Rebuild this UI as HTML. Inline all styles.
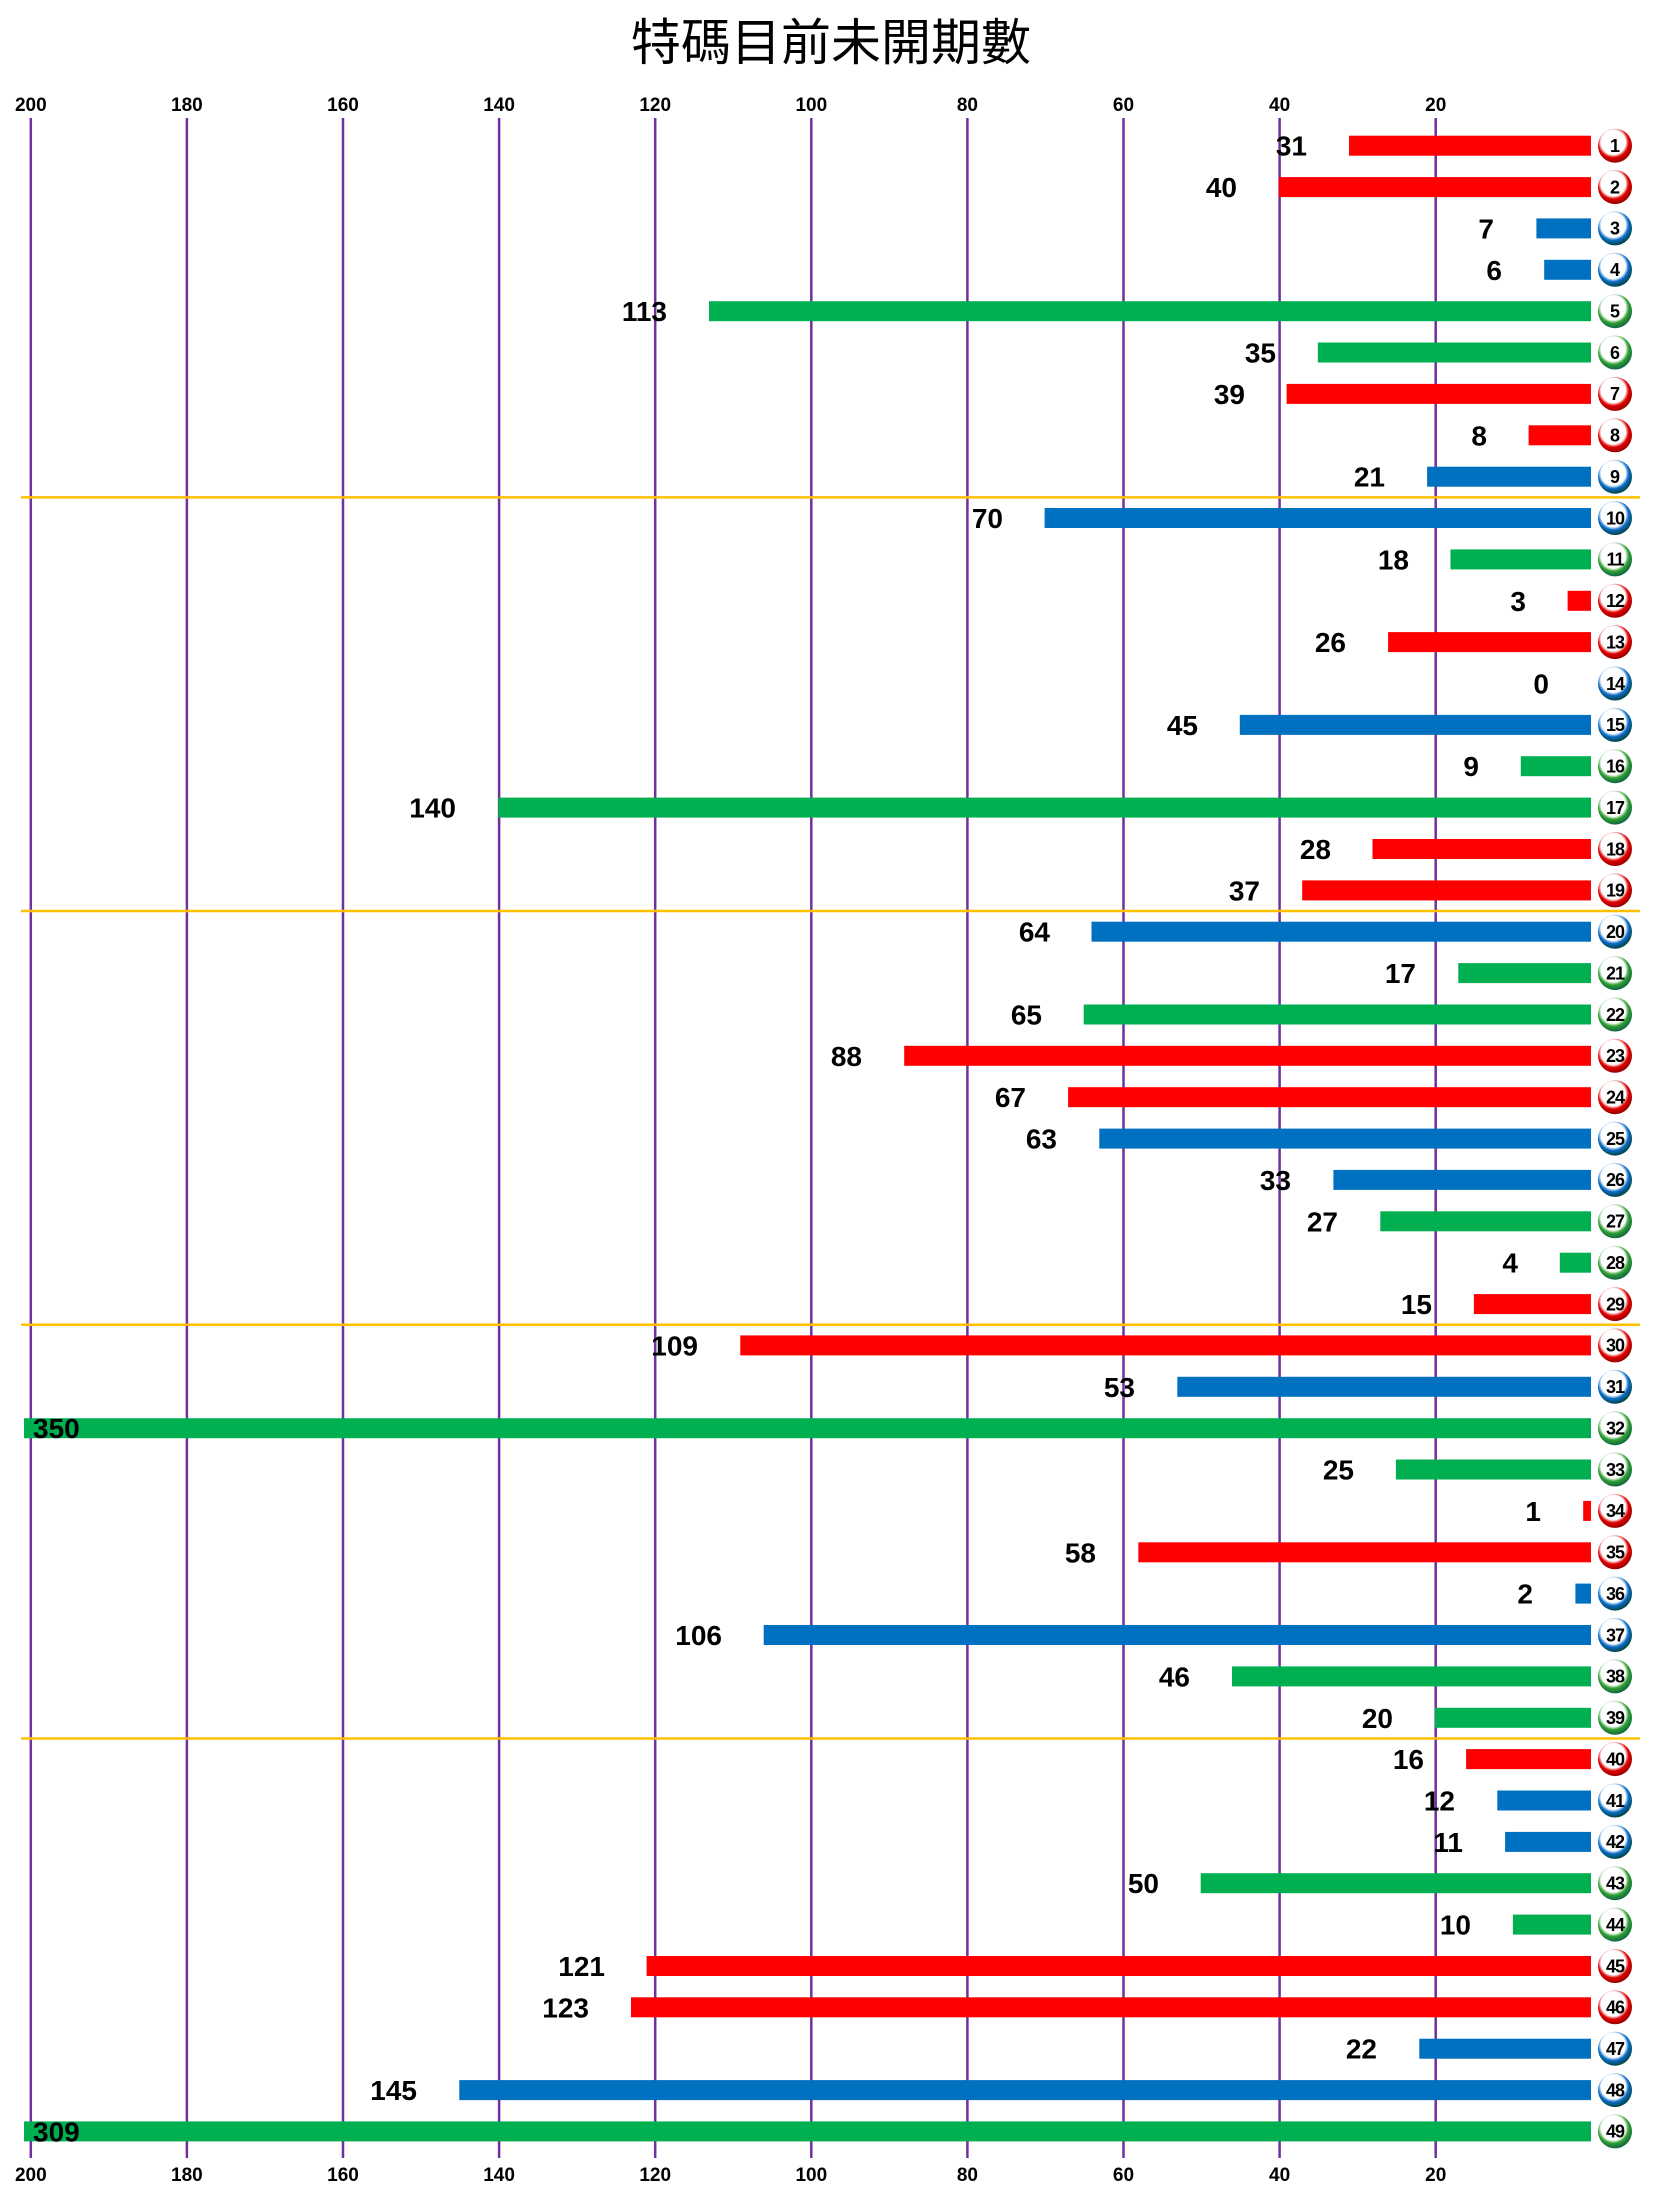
<!DOCTYPE html>
<html><head><meta charset="utf-8"><style>
html,body{margin:0;padding:0;background:#fff;}
svg{display:block;font-family:"Liberation Sans","Noto Sans CJK TC",sans-serif;}
.v{font-size:28px;font-weight:bold;text-anchor:end;fill:#000;}
.t{font-size:19px;font-weight:bold;text-anchor:middle;fill:#000;}
.n{font-size:18px;font-weight:bold;text-anchor:middle;fill:#000;}
</style></head><body>
<svg width="1654" height="2186" viewBox="0 0 1654 2186" xmlns="http://www.w3.org/2000/svg">
<defs>
<radialGradient id="R" cx="0.45" cy="0.4" r="0.6"><stop offset="0.6" stop-color="#fff"/><stop offset="0.75" stop-color="#e00000"/><stop offset="1" stop-color="#900"/></radialGradient>
<radialGradient id="B" cx="0.45" cy="0.4" r="0.6"><stop offset="0.6" stop-color="#fff"/><stop offset="0.75" stop-color="#0a6cc8"/><stop offset="1" stop-color="#044"/></radialGradient>
<radialGradient id="G" cx="0.45" cy="0.4" r="0.6"><stop offset="0.6" stop-color="#fff"/><stop offset="0.75" stop-color="#30a030"/><stop offset="1" stop-color="#164"/></radialGradient>
</defs>
<text x="831" y="60" font-size="50" text-anchor="middle" font-family="'Noto Sans CJK TC',sans-serif">特碼目前未開期數</text>
<g stroke="#7030a0" stroke-width="2.5">
<line x1="30.8" y1="118" x2="30.8" y2="2158"/><line x1="186.9" y1="118" x2="186.9" y2="2158"/><line x1="343" y1="118" x2="343" y2="2158"/><line x1="499.1" y1="118" x2="499.1" y2="2158"/><line x1="655.2" y1="118" x2="655.2" y2="2158"/><line x1="811.3" y1="118" x2="811.3" y2="2158"/><line x1="967.4" y1="118" x2="967.4" y2="2158"/><line x1="1123.5" y1="118" x2="1123.5" y2="2158"/><line x1="1279.6" y1="118" x2="1279.6" y2="2158"/><line x1="1435.7" y1="118" x2="1435.7" y2="2158"/>
</g>
<g>
<text class="t" x="30.8" y="111">200</text><text class="t" x="186.9" y="111">180</text><text class="t" x="343" y="111">160</text><text class="t" x="499.1" y="111">140</text><text class="t" x="655.2" y="111">120</text><text class="t" x="811.3" y="111">100</text><text class="t" x="967.4" y="111">80</text><text class="t" x="1123.5" y="111">60</text><text class="t" x="1279.6" y="111">40</text><text class="t" x="1435.7" y="111">20</text>
<text class="t" x="30.8" y="2181">200</text><text class="t" x="186.9" y="2181">180</text><text class="t" x="343" y="2181">160</text><text class="t" x="499.1" y="2181">140</text><text class="t" x="655.2" y="2181">120</text><text class="t" x="811.3" y="2181">100</text><text class="t" x="967.4" y="2181">80</text><text class="t" x="1123.5" y="2181">60</text><text class="t" x="1279.6" y="2181">40</text><text class="t" x="1435.7" y="2181">20</text>
</g>
<g stroke="#ffc000" stroke-width="2.5">
<line x1="21" y1="497.4" x2="1640" y2="497.4"/><line x1="21" y1="911" x2="1640" y2="911"/><line x1="21" y1="1324.8" x2="1640" y2="1324.8"/><line x1="21" y1="1738.5" x2="1640" y2="1738.5"/>
</g>
<g>
<rect x="1349" y="135.7" width="242" height="20" fill="#ff0000"/>
<rect x="1278.8" y="177.1" width="312.2" height="20" fill="#ff0000"/>
<rect x="1536.4" y="218.4" width="54.6" height="20" fill="#0070c0"/>
<rect x="1544.2" y="259.8" width="46.8" height="20" fill="#0070c0"/>
<rect x="709" y="301.2" width="882" height="20" fill="#00b050"/>
<rect x="1317.8" y="342.5" width="273.2" height="20" fill="#00b050"/>
<rect x="1286.6" y="383.9" width="304.4" height="20" fill="#ff0000"/>
<rect x="1528.6" y="425.3" width="62.4" height="20" fill="#ff0000"/>
<rect x="1427.1" y="466.7" width="163.9" height="20" fill="#0070c0"/>
<rect x="1044.6" y="508" width="546.4" height="20" fill="#0070c0"/>
<rect x="1450.5" y="549.4" width="140.5" height="20" fill="#00b050"/>
<rect x="1567.6" y="590.8" width="23.4" height="20" fill="#ff0000"/>
<rect x="1388.1" y="632.1" width="202.9" height="20" fill="#ff0000"/>
<rect x="1239.8" y="714.9" width="351.2" height="20" fill="#0070c0"/>
<rect x="1520.8" y="756.2" width="70.2" height="20" fill="#00b050"/>
<rect x="498.3" y="797.6" width="1092.7" height="20" fill="#00b050"/>
<rect x="1372.5" y="839" width="218.5" height="20" fill="#ff0000"/>
<rect x="1302.2" y="880.4" width="288.8" height="20" fill="#ff0000"/>
<rect x="1091.5" y="921.7" width="499.5" height="20" fill="#0070c0"/>
<rect x="1458.3" y="963.1" width="132.7" height="20" fill="#00b050"/>
<rect x="1083.7" y="1004.5" width="507.3" height="20" fill="#00b050"/>
<rect x="904.2" y="1045.8" width="686.8" height="20" fill="#ff0000"/>
<rect x="1068.1" y="1087.2" width="522.9" height="20" fill="#ff0000"/>
<rect x="1099.3" y="1128.6" width="491.7" height="20" fill="#0070c0"/>
<rect x="1333.4" y="1169.9" width="257.6" height="20" fill="#0070c0"/>
<rect x="1380.3" y="1211.3" width="210.7" height="20" fill="#00b050"/>
<rect x="1559.8" y="1252.7" width="31.2" height="20" fill="#00b050"/>
<rect x="1473.9" y="1294.1" width="117.1" height="20" fill="#ff0000"/>
<rect x="740.3" y="1335.4" width="850.7" height="20" fill="#ff0000"/>
<rect x="1177.3" y="1376.8" width="413.7" height="20" fill="#0070c0"/>
<rect x="24" y="1418.2" width="1567" height="20" fill="#00b050"/>
<rect x="1395.9" y="1459.5" width="195.1" height="20" fill="#00b050"/>
<rect x="1583.2" y="1500.9" width="7.8" height="20" fill="#ff0000"/>
<rect x="1138.3" y="1542.3" width="452.7" height="20" fill="#ff0000"/>
<rect x="1575.4" y="1583.6" width="15.6" height="20" fill="#0070c0"/>
<rect x="763.7" y="1625" width="827.3" height="20" fill="#0070c0"/>
<rect x="1232" y="1666.4" width="359" height="20" fill="#00b050"/>
<rect x="1434.9" y="1707.8" width="156.1" height="20" fill="#00b050"/>
<rect x="1466.1" y="1749.1" width="124.9" height="20" fill="#ff0000"/>
<rect x="1497.3" y="1790.5" width="93.7" height="20" fill="#0070c0"/>
<rect x="1505.1" y="1831.9" width="85.9" height="20" fill="#0070c0"/>
<rect x="1200.7" y="1873.2" width="390.3" height="20" fill="#00b050"/>
<rect x="1512.9" y="1914.6" width="78.1" height="20" fill="#00b050"/>
<rect x="646.6" y="1956" width="944.4" height="20" fill="#ff0000"/>
<rect x="631" y="1997.3" width="960" height="20" fill="#ff0000"/>
<rect x="1419.3" y="2038.7" width="171.7" height="20" fill="#0070c0"/>
<rect x="459.3" y="2080.1" width="1131.7" height="20" fill="#0070c0"/>
<rect x="24" y="2121.4" width="1567" height="20" fill="#00b050"/>
</g>
<g>
<text class="v" x="1307" y="155.7">31</text>
<text class="v" x="1237" y="197.1">40</text>
<text class="v" x="1494" y="238.4">7</text>
<text class="v" x="1502" y="279.8">6</text>
<text class="v" x="667" y="321.2">113</text>
<text class="v" x="1276" y="362.5">35</text>
<text class="v" x="1245" y="403.9">39</text>
<text class="v" x="1487" y="445.3">8</text>
<text class="v" x="1385" y="486.7">21</text>
<text class="v" x="1003" y="528">70</text>
<text class="v" x="1409" y="569.4">18</text>
<text class="v" x="1526" y="610.8">3</text>
<text class="v" x="1346" y="652.1">26</text>
<text class="v" x="1549" y="693.5">0</text>
<text class="v" x="1198" y="734.9">45</text>
<text class="v" x="1479" y="776.2">9</text>
<text class="v" x="456" y="817.6">140</text>
<text class="v" x="1331" y="859">28</text>
<text class="v" x="1260" y="900.4">37</text>
<text class="v" x="1050" y="941.7">64</text>
<text class="v" x="1416" y="983.1">17</text>
<text class="v" x="1042" y="1024.5">65</text>
<text class="v" x="862" y="1065.8">88</text>
<text class="v" x="1026" y="1107.2">67</text>
<text class="v" x="1057" y="1148.6">63</text>
<text class="v" x="1291" y="1189.9">33</text>
<text class="v" x="1338" y="1231.3">27</text>
<text class="v" x="1518" y="1272.7">4</text>
<text class="v" x="1432" y="1314.1">15</text>
<text class="v" x="698" y="1355.4">109</text>
<text class="v" x="1135" y="1396.8">53</text>
<text class="v" x="33" y="1438.2" style="text-anchor:start">350</text>
<text class="v" x="1354" y="1479.5">25</text>
<text class="v" x="1541" y="1520.9">1</text>
<text class="v" x="1096" y="1562.3">58</text>
<text class="v" x="1533" y="1603.6">2</text>
<text class="v" x="722" y="1645">106</text>
<text class="v" x="1190" y="1686.4">46</text>
<text class="v" x="1393" y="1727.8">20</text>
<text class="v" x="1424" y="1769.1">16</text>
<text class="v" x="1455" y="1810.5">12</text>
<text class="v" x="1463" y="1851.9">11</text>
<text class="v" x="1159" y="1893.2">50</text>
<text class="v" x="1471" y="1934.6">10</text>
<text class="v" x="605" y="1976">121</text>
<text class="v" x="589" y="2017.3">123</text>
<text class="v" x="1377" y="2058.7">22</text>
<text class="v" x="417" y="2100.1">145</text>
<text class="v" x="33" y="2141.4" style="text-anchor:start">309</text>
</g>
<g>
<circle cx="1615" cy="145.7" r="17" fill="url(#R)"/><circle cx="1615" cy="187.1" r="17" fill="url(#R)"/><circle cx="1615" cy="228.4" r="17" fill="url(#B)"/><circle cx="1615" cy="269.8" r="17" fill="url(#B)"/><circle cx="1615" cy="311.2" r="17" fill="url(#G)"/><circle cx="1615" cy="352.5" r="17" fill="url(#G)"/><circle cx="1615" cy="393.9" r="17" fill="url(#R)"/><circle cx="1615" cy="435.3" r="17" fill="url(#R)"/><circle cx="1615" cy="476.7" r="17" fill="url(#B)"/><circle cx="1615" cy="518" r="17" fill="url(#B)"/>
<circle cx="1615" cy="559.4" r="17" fill="url(#G)"/><circle cx="1615" cy="600.8" r="17" fill="url(#R)"/><circle cx="1615" cy="642.1" r="17" fill="url(#R)"/><circle cx="1615" cy="683.5" r="17" fill="url(#B)"/><circle cx="1615" cy="724.9" r="17" fill="url(#B)"/><circle cx="1615" cy="766.2" r="17" fill="url(#G)"/><circle cx="1615" cy="807.6" r="17" fill="url(#G)"/><circle cx="1615" cy="849" r="17" fill="url(#R)"/><circle cx="1615" cy="890.4" r="17" fill="url(#R)"/><circle cx="1615" cy="931.7" r="17" fill="url(#B)"/>
<circle cx="1615" cy="973.1" r="17" fill="url(#G)"/><circle cx="1615" cy="1014.5" r="17" fill="url(#G)"/><circle cx="1615" cy="1055.8" r="17" fill="url(#R)"/><circle cx="1615" cy="1097.2" r="17" fill="url(#R)"/><circle cx="1615" cy="1138.6" r="17" fill="url(#B)"/><circle cx="1615" cy="1179.9" r="17" fill="url(#B)"/><circle cx="1615" cy="1221.3" r="17" fill="url(#G)"/><circle cx="1615" cy="1262.7" r="17" fill="url(#G)"/><circle cx="1615" cy="1304.1" r="17" fill="url(#R)"/><circle cx="1615" cy="1345.4" r="17" fill="url(#R)"/>
<circle cx="1615" cy="1386.8" r="17" fill="url(#B)"/><circle cx="1615" cy="1428.2" r="17" fill="url(#G)"/><circle cx="1615" cy="1469.5" r="17" fill="url(#G)"/><circle cx="1615" cy="1510.9" r="17" fill="url(#R)"/><circle cx="1615" cy="1552.3" r="17" fill="url(#R)"/><circle cx="1615" cy="1593.6" r="17" fill="url(#B)"/><circle cx="1615" cy="1635" r="17" fill="url(#B)"/><circle cx="1615" cy="1676.4" r="17" fill="url(#G)"/><circle cx="1615" cy="1717.8" r="17" fill="url(#G)"/><circle cx="1615" cy="1759.1" r="17" fill="url(#R)"/>
<circle cx="1615" cy="1800.5" r="17" fill="url(#B)"/><circle cx="1615" cy="1841.9" r="17" fill="url(#B)"/><circle cx="1615" cy="1883.2" r="17" fill="url(#G)"/><circle cx="1615" cy="1924.6" r="17" fill="url(#G)"/><circle cx="1615" cy="1966" r="17" fill="url(#R)"/><circle cx="1615" cy="2007.3" r="17" fill="url(#R)"/><circle cx="1615" cy="2048.7" r="17" fill="url(#B)"/><circle cx="1615" cy="2090.1" r="17" fill="url(#B)"/><circle cx="1615" cy="2131.4" r="17" fill="url(#G)"/>
</g>
<g>
<text class="n" x="1615" y="152">1</text><text class="n" x="1615" y="193.4">2</text><text class="n" x="1615" y="234.7">3</text><text class="n" x="1615" y="276.1">4</text><text class="n" x="1615" y="317.5">5</text><text class="n" x="1615" y="358.8">6</text><text class="n" x="1615" y="400.2">7</text><text class="n" x="1615" y="441.6">8</text><text class="n" x="1615" y="483">9</text>
<text class="n" x="1615" y="524.3" style="letter-spacing:-1px">10</text><text class="n" x="1615" y="565.7" style="letter-spacing:-1px">11</text><text class="n" x="1615" y="607.1" style="letter-spacing:-1px">12</text><text class="n" x="1615" y="648.4" style="letter-spacing:-1px">13</text><text class="n" x="1615" y="689.8" style="letter-spacing:-1px">14</text><text class="n" x="1615" y="731.2" style="letter-spacing:-1px">15</text><text class="n" x="1615" y="772.5" style="letter-spacing:-1px">16</text><text class="n" x="1615" y="813.9" style="letter-spacing:-1px">17</text><text class="n" x="1615" y="855.3" style="letter-spacing:-1px">18</text><text class="n" x="1615" y="896.7" style="letter-spacing:-1px">19</text>
<text class="n" x="1615" y="938" style="letter-spacing:-1px">20</text><text class="n" x="1615" y="979.4" style="letter-spacing:-1px">21</text><text class="n" x="1615" y="1020.8" style="letter-spacing:-1px">22</text><text class="n" x="1615" y="1062.1" style="letter-spacing:-1px">23</text><text class="n" x="1615" y="1103.5" style="letter-spacing:-1px">24</text><text class="n" x="1615" y="1144.9" style="letter-spacing:-1px">25</text><text class="n" x="1615" y="1186.2" style="letter-spacing:-1px">26</text><text class="n" x="1615" y="1227.6" style="letter-spacing:-1px">27</text><text class="n" x="1615" y="1269" style="letter-spacing:-1px">28</text><text class="n" x="1615" y="1310.4" style="letter-spacing:-1px">29</text>
<text class="n" x="1615" y="1351.7" style="letter-spacing:-1px">30</text><text class="n" x="1615" y="1393.1" style="letter-spacing:-1px">31</text><text class="n" x="1615" y="1434.5" style="letter-spacing:-1px">32</text><text class="n" x="1615" y="1475.8" style="letter-spacing:-1px">33</text><text class="n" x="1615" y="1517.2" style="letter-spacing:-1px">34</text><text class="n" x="1615" y="1558.6" style="letter-spacing:-1px">35</text><text class="n" x="1615" y="1599.9" style="letter-spacing:-1px">36</text><text class="n" x="1615" y="1641.3" style="letter-spacing:-1px">37</text><text class="n" x="1615" y="1682.7" style="letter-spacing:-1px">38</text><text class="n" x="1615" y="1724.1" style="letter-spacing:-1px">39</text>
<text class="n" x="1615" y="1765.4" style="letter-spacing:-1px">40</text><text class="n" x="1615" y="1806.8" style="letter-spacing:-1px">41</text><text class="n" x="1615" y="1848.2" style="letter-spacing:-1px">42</text><text class="n" x="1615" y="1889.5" style="letter-spacing:-1px">43</text><text class="n" x="1615" y="1930.9" style="letter-spacing:-1px">44</text><text class="n" x="1615" y="1972.3" style="letter-spacing:-1px">45</text><text class="n" x="1615" y="2013.6" style="letter-spacing:-1px">46</text><text class="n" x="1615" y="2055" style="letter-spacing:-1px">47</text><text class="n" x="1615" y="2096.4" style="letter-spacing:-1px">48</text><text class="n" x="1615" y="2137.7" style="letter-spacing:-1px">49</text>
</g>
</svg>
</body></html>
